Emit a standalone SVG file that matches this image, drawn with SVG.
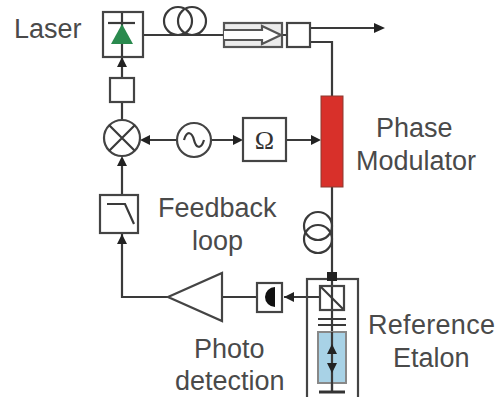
<svg xmlns="http://www.w3.org/2000/svg" width="497" height="397" viewBox="0 0 497 397">
<style>
.l{fill:none;stroke:#3a3a3a;stroke-width:2.2}
.b{fill:#fff;stroke:#444;stroke-width:2.2}
.t{font-family:"Liberation Sans",Arial,sans-serif;font-size:27px;fill:#4a4a4a}
.a{fill:#222}
</style>
<rect width="497" height="397" fill="#fff"/>
<g id="connectors">
<path class="l" d="M143 35H224M282 35H287M310 28H376M310 42H332V96M122 57V78M122 102V120M122 195V162M122 233V297H168M222 297H257M284 297H320M177 140H142M211 140H236M286 140H314M332 187V392"/>
<path class="a" d="M385 28L374 23V33ZM122 57L117 67H127ZM140 140L150 135V145ZM243 140L233 135V145ZM321 140L311 135V145ZM122 156L117 166H127ZM122 234L117 244H127ZM284 297L294 292V302Z"/>
<circle class="l" cx="178" cy="21" r="14"/><circle class="l" cx="192" cy="21" r="14"/>
<circle class="l" cx="318" cy="226" r="14"/><circle class="l" cx="318" cy="239" r="14"/>
</g>
<g id="laser"><rect class="b" x="103" y="12" width="40" height="45"/><path d="M122 13V57" class="l"/><path d="M108 23H135" class="l"/><path d="M122 24L111 44H133Z" fill="#2a8a4e"/><text class="t" x="14" y="38">Laser</text></g>
<g id="isolator"><rect x="224" y="23" width="58" height="24" fill="#ececec" stroke="#555" stroke-width="2.2"/><path d="M224 30H262V26L281 35L262 44V40H224" fill="#fff" stroke="#555" stroke-width="2.2"/></g>
<g id="coupler"><rect class="b" x="287" y="23" width="23" height="24"/></g>
<g id="box"><rect class="b" x="110" y="78" width="24" height="24"/></g>
<g id="mixer"><circle class="b" cx="122" cy="138" r="18"/><path class="l" d="M109 125L135 151M135 125L109 151"/></g>
<g id="oscillator"><circle class="b" cx="194" cy="140" r="17"/><path class="l" d="M184 140C187 130 192 132 194 140S201 150 204 140"/></g>
<g id="omega"><rect class="b" x="243" y="118" width="43" height="43"/><text x="264.500" y="149" text-anchor="middle" font-family="Liberation Serif,serif" font-size="26" fill="#333">Ω</text></g>
<g id="modulator"><rect x="321" y="96" width="22" height="91" fill="#d8302a" stroke="#8a3a30"/><text class="t" x="376" y="137">Phase</text><text class="t" x="356" y="170">Modulator</text></g>
<g id="filter"><rect class="b" x="100" y="195" width="38" height="38"/><path class="l" d="M107 204H125L134 224"/></g>
<text class="t" x="158" y="217">Feedback</text><text class="t" x="192" y="250">loop</text>
<g id="amplifier"><path class="b" d="M168 297L222 273V321Z"/></g>
<g id="detector"><rect class="b" x="257" y="283" width="25" height="29"/><path d="M275 287A10 10 0 0 0 275 307Z" fill="#111"/><text class="t" x="194" y="358">Photo</text><text class="t" x="175" y="390">detection</text></g>
<g id="etalon"><rect x="307" y="279" width="51" height="120" fill="none" stroke="#444" stroke-width="2.2"/>
<rect class="a" x="327" y="272" width="10" height="9"/>
<rect x="320" y="286" width="24" height="24" fill="none" stroke="#444" stroke-width="2.2"/><path class="l" d="M321 287L343 309"/>
<path d="M318 319H346M318 325H346" class="l"/>
<rect x="318" y="332" width="28" height="51" fill="#a8d2e6" stroke="#888" stroke-width="2"/>
<path d="M332 332V392" class="l"/><path class="a" d="M332 344L327 354H337ZM332 373L327 363H337Z"/>
<path d="M319 392H345" stroke="#333" stroke-width="3"/>
<text class="t" x="368" y="334" textLength="127" lengthAdjust="spacing">Reference</text><text class="t" x="393" y="367">Etalon</text></g>
</svg>
